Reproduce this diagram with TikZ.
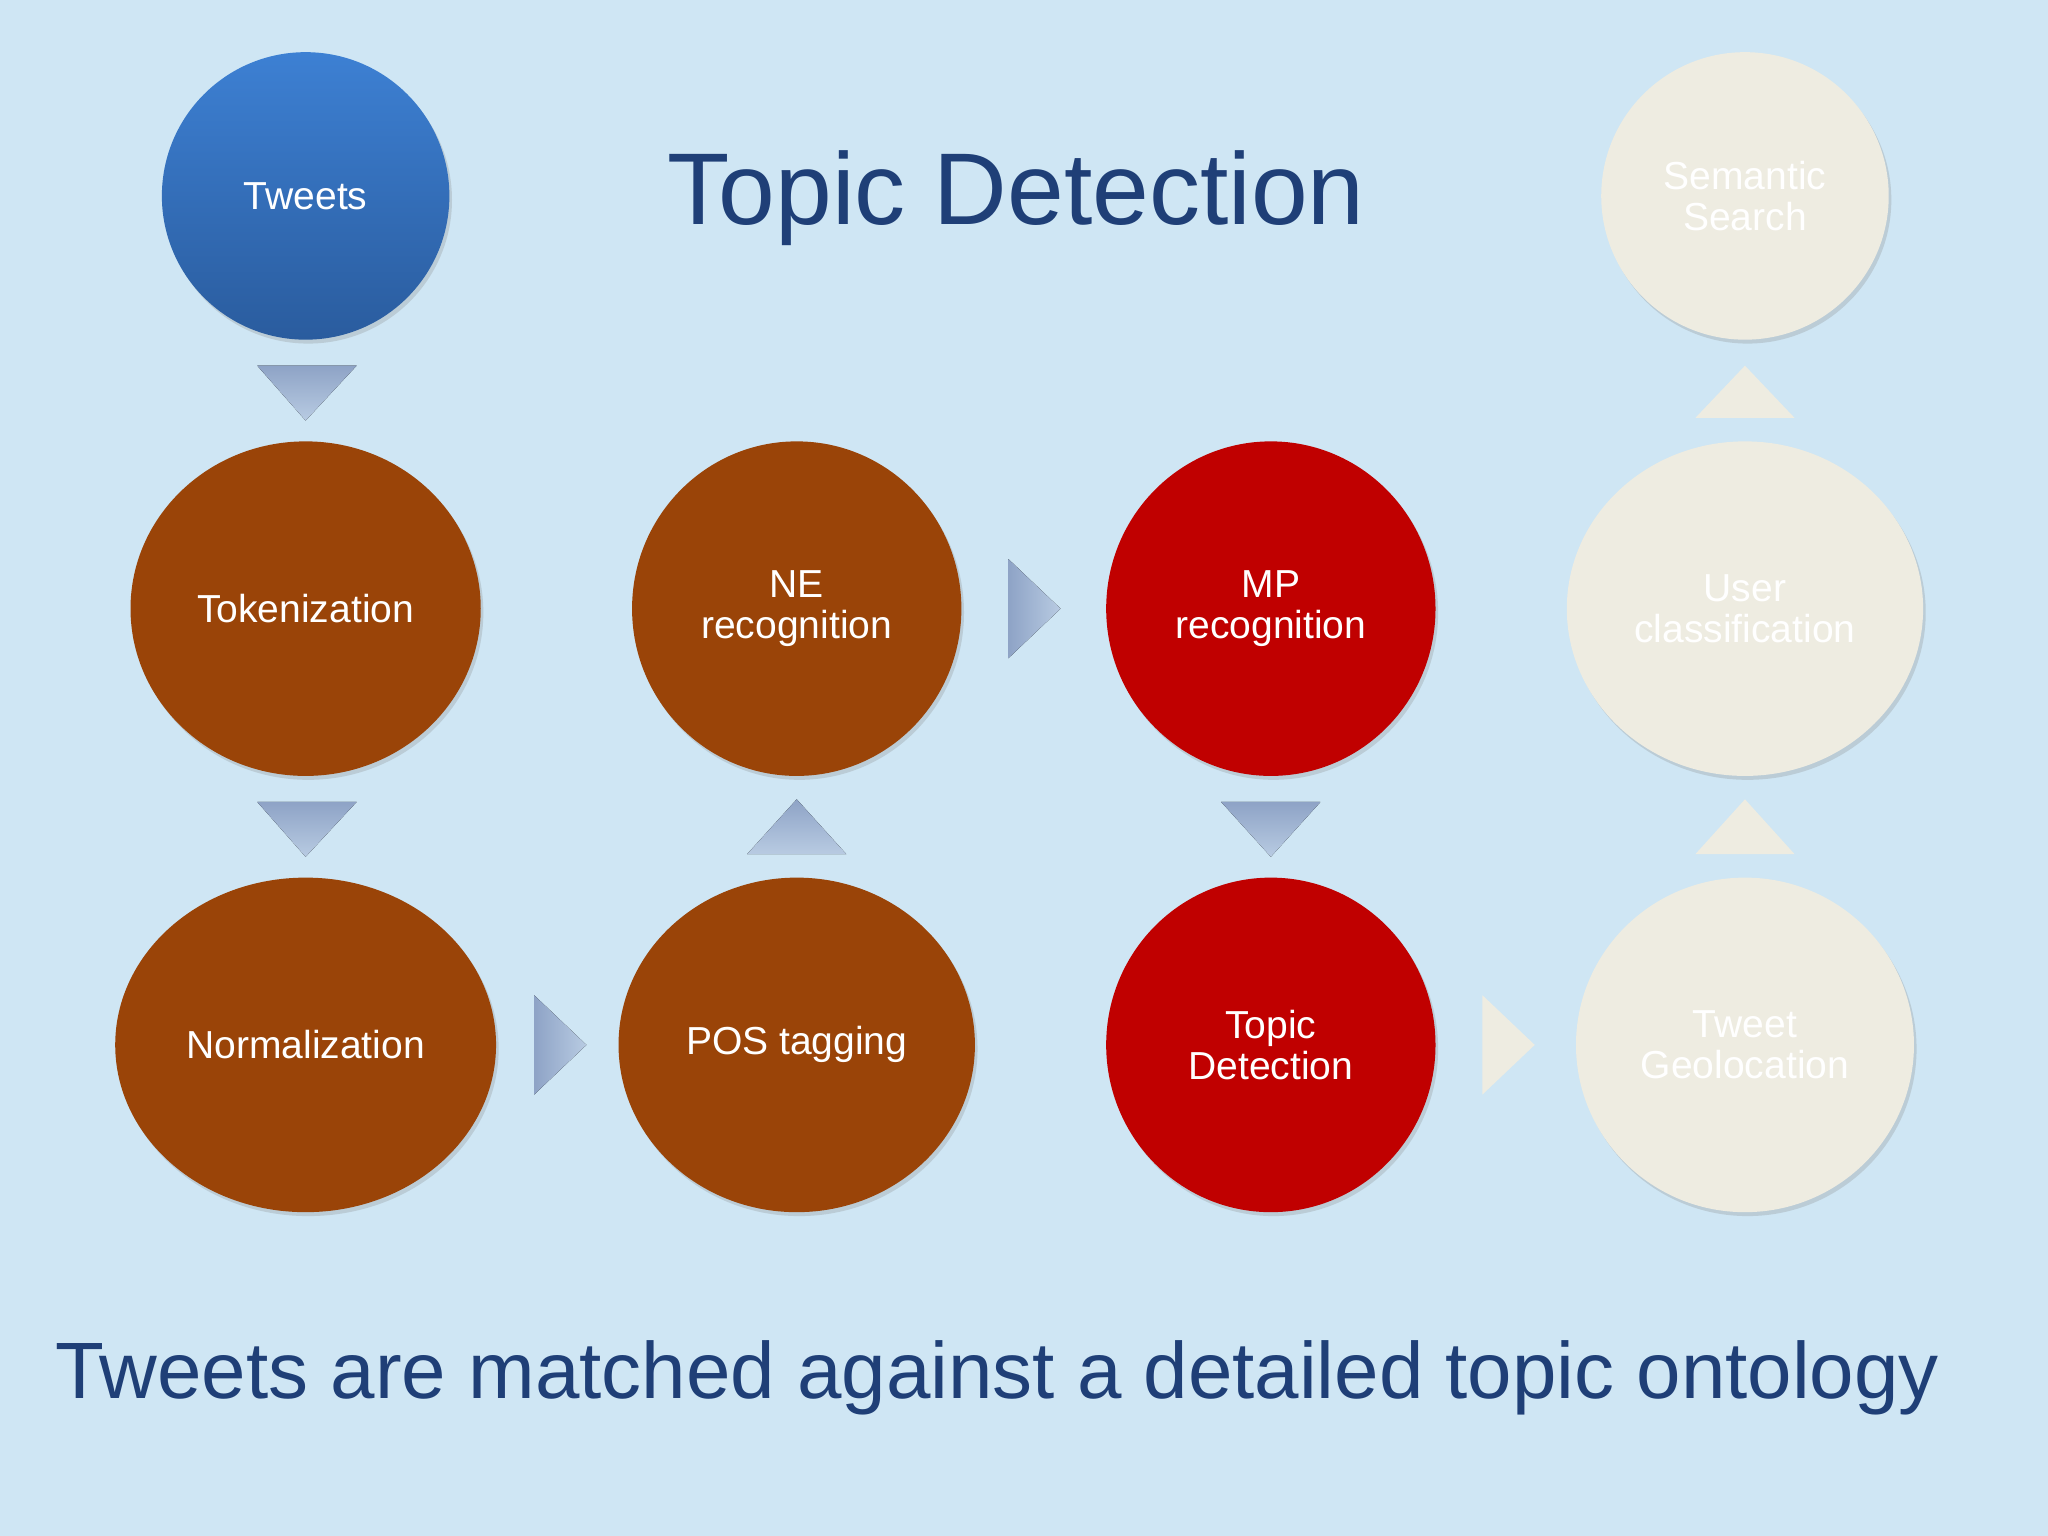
\documentclass[tikz,border=0pt]{standalone}
\usepackage{fontspec}
\setmainfont{Liberation Sans}
\usetikzlibrary{shadows,shapes.geometric}
\definecolor{bg}{HTML}{CFE6F4}
\definecolor{brn}{HTML}{9A4408}
\definecolor{rd}{HTML}{C00000}
\definecolor{bge}{HTML}{EEECE1}
\definecolor{ttl}{HTML}{1F3F77}
\definecolor{bl1}{HTML}{3D80D3}
\definecolor{bl2}{HTML}{2A5C9E}
\definecolor{ar1}{HTML}{8EA3C6}
\definecolor{ar2}{HTML}{B8CBE2}
\tikzset{
 circ/.style={ellipse,minimum width=2.52cm,minimum height=2.56cm,align=center,text=white,font=\fontsize{8.5}{9}\selectfont,drop shadow={shadow xshift=0.02cm,shadow yshift=-0.03cm,opacity=0.25}},
 bro/.style={circ,fill=brn},
 red/.style={circ,fill=rd},
 bei/.style={circ,fill=bge},
 tri/.style={top color=ar1,bottom color=ar2,draw=none},
 btri/.style={fill=bge,draw=none}
}
\begin{document}
\begin{tikzpicture}[x=0.01cm,y=-0.01cm]
\useasboundingbox (0,0) rectangle (1568,1176);
\fill[bg] (0,0) rectangle (1568,1176);
\node[circ,circle,minimum size=2.2cm,top color=bl1,bottom color=bl2] (tw) at (234,150) {Tweets};
\node[bro] (tok) at (234,466) {Tokenization};
\node[bro,minimum width=2.76cm] (nor) at (234,800) {Normalization};
\node[bro] (ne) at (610,466) {NE\\recognition};
\node[bro] (pos) at (610,800) {POS tagging};
\node[red] (mp) at (973,466) {MP\\recognition};
\node[red] (td) at (973,800) {Topic\\Detection};
\node[bei] (uc) at (1336,466) {User\\classification};
\node[bei] (tg) at (1336,800) {Tweet\\Geolocation};
\node[bei,circle,minimum size=2.2cm] (ss) at (1336,150) {Semantic\\Search};
\node[text=ttl,font=\fontsize{22.2}{26}\selectfont] (title) at (778,152) {Topic Detection};
\node[text=ttl,font=\fontsize{17.4}{20}\selectfont,anchor=west] (sub) at (30,1055) {Tweets are matched against a detailed topic ontology};
\fill[tri] (197,280) -- (273,280) -- (234,322) -- cycle;
\fill[tri] (197,614) -- (273,614) -- (234,656) -- cycle;
\fill[tri] (572,654) -- (648,654) -- (610,612) -- cycle;
\fill[tri] (935,614) -- (1011,614) -- (973,656) -- cycle;
\fill[tri,left color=ar1,right color=ar2] (409,762) -- (449,800) -- (409,838) -- cycle;
\fill[tri,left color=ar1,right color=ar2] (772,428) -- (812,466) -- (772,504) -- cycle;
\fill[btri] (1135,762) -- (1175,800) -- (1135,838) -- cycle;
\fill[btri] (1298,654) -- (1374,654) -- (1336,612) -- cycle;
\fill[btri] (1298,320) -- (1374,320) -- (1336,280) -- cycle;
\end{tikzpicture}
\end{document}
